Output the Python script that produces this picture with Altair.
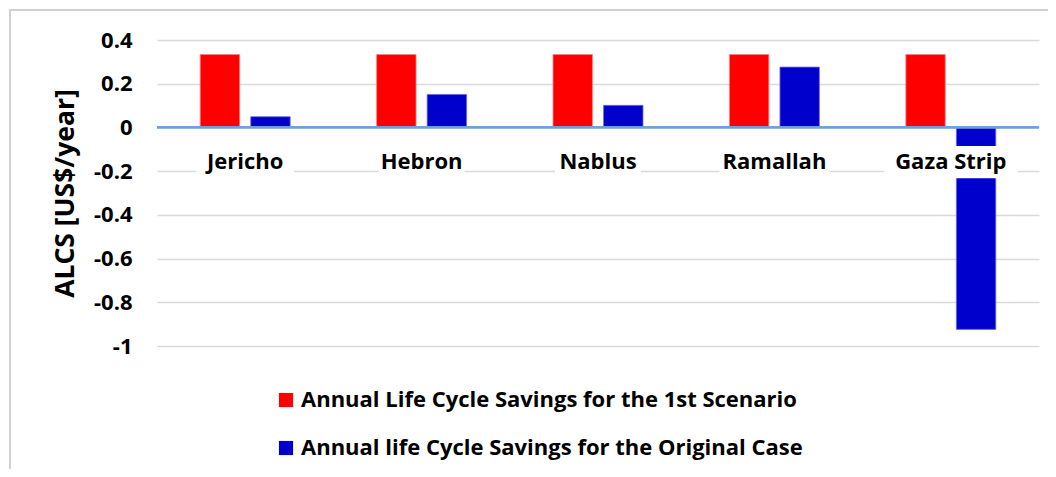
import altair as alt
import pandas as pd

cities = ["Jericho", "Hebron", "Nablus", "Ramallah", "Gaza Strip"]
series_names = [
    "Annual Life Cycle Savings for the 1st Scenario",
    "Annual life Cycle Savings for the Original Case",
]
scenario_1st = [0.334, 0.334, 0.334, 0.334, 0.334]
original_case = [0.049, 0.151, 0.101, 0.276, -0.924]
series_colors = ["#FF0000", "#0000CC"]
y_ticks = [0.4, 0.2, 0, -0.2, -0.4, -0.6, -0.8, -1]

rows = []
for i, c in enumerate(cities):
    rows.append({"city": c, "series": series_names[0], "value": scenario_1st[i]})
    rows.append({"city": c, "series": series_names[1], "value": original_case[i]})
df = pd.DataFrame(rows)
lab = pd.DataFrame({"city": cities})

FONT = "Open Sans"
xscale = alt.Scale(domain=cities, paddingInner=0.49, paddingOuter=0.245)
yscale = alt.Scale(domain=[-1, 0.4], nice=False, zero=False)

bars = alt.Chart(df).mark_bar(strokeWidth=0.8).encode(
    x=alt.X("city:N", scale=xscale, sort=cities, axis=None),
    xOffset=alt.XOffset("series:N", sort=series_names,
                        scale=alt.Scale(paddingInner=0.22, paddingOuter=0)),
    y=alt.Y("value:Q", scale=yscale,
            axis=alt.Axis(values=y_ticks, title="ALCS [US$/year]", labelExpr="datum.value",
                          grid=True, gridColor="#D9D9D9", gridWidth=1.5, domain=False,
                          ticks=False, labelPadding=25, labelFontSize=22,
                          labelFontWeight="bold", labelColor="#000", labelFont=FONT,
                          titleFont=FONT, titleFontSize=26.5, titleFontWeight="bold",
                          titleColor="#000", titlePadding=14)),
    color=alt.Color("series:N", sort=series_names,
                    scale=alt.Scale(domain=series_names, range=series_colors),
                    legend=alt.Legend(title=None, orient="none", legendX=118, legendY=349,
                                      direction="vertical", symbolType="square",
                                      symbolSize=200, symbolStrokeWidth=0,
                                      labelFont=FONT, labelFontSize=22,
                                      labelFontWeight="bold", labelColor="#000",
                                      rowPadding=26, labelOffset=4, labelLimit=700)),
    stroke=alt.Color("series:N", sort=series_names,
                     scale=alt.Scale(domain=series_names, range=["#FF8080", "#6A6AE8"]),
                     legend=None),
)

zero = alt.Chart(lab).mark_rule(color="#6FA0DC", strokeWidth=1.8).encode(
    y=alt.datum(0, scale=yscale)
)

boxes = alt.Chart(lab).transform_calculate(
    w="length(datum.city) * 12 + 14"
).mark_bar(color="white").encode(
    x=alt.X("city:N", scale=xscale, sort=cities, axis=None),
    y=alt.datum(-0.085),
    y2=alt.datum(-0.232),
    size=alt.Size("w:Q", scale=None, legend=None),
)

labels = alt.Chart(lab).mark_text(
    font=FONT, fontSize=22, fontWeight="bold", color="#000", baseline="middle"
).encode(
    x=alt.X("city:N", scale=xscale, sort=cities, axis=None),
    y=alt.datum(-0.16),
    text="city:N",
)

frame = alt.Chart(lab).mark_rect(fill=None, stroke="#D0D0D0", strokeWidth=2).encode(
    x=alt.value(-147), x2=alt.value(900), y=alt.value(-30), y2=alt.value(500)
)

chart = alt.layer(bars, zero, boxes, labels, frame).properties(
    width=882, height=306,
    autosize=alt.AutoSizeParams(type="none"),
    padding={"left": 149, "top": 32, "right": 9, "bottom": 123},
).configure_view(stroke=None).resolve_scale(color="independent")

chart.save("out.html", embed_options={"renderer": "svg", "actions": False})
